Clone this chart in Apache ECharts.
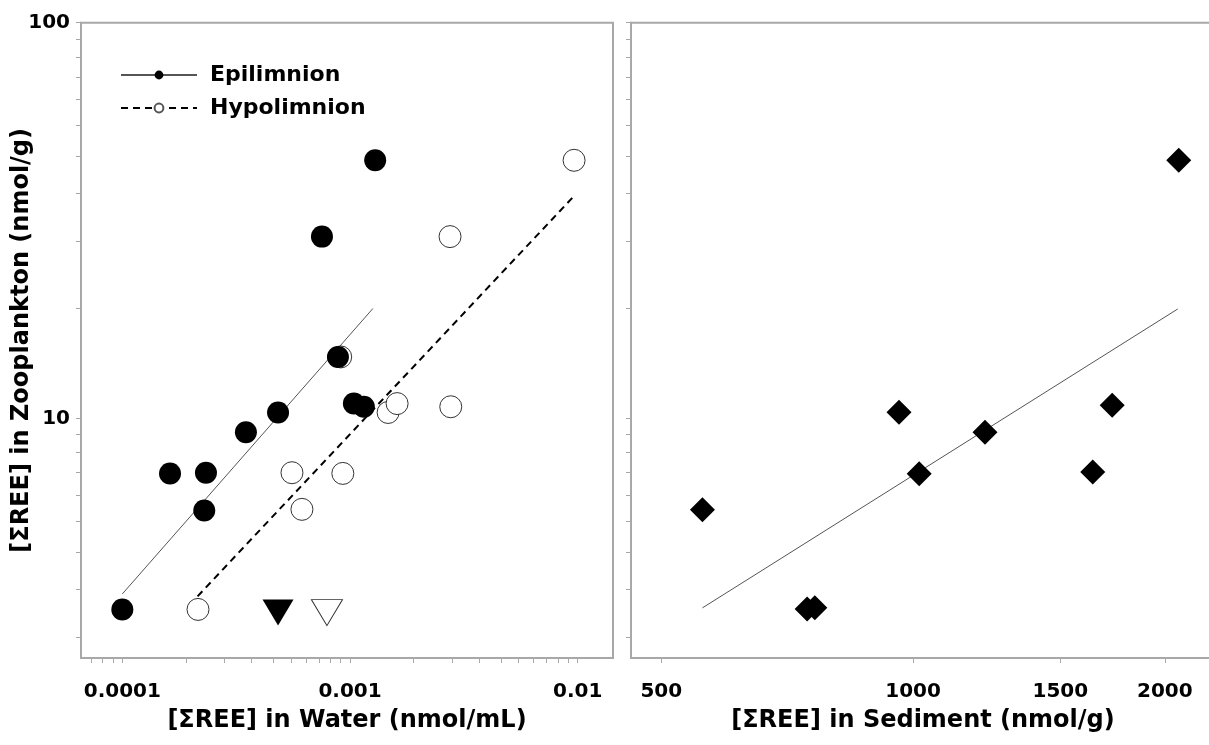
<!DOCTYPE html>
<html>
<head>
<meta charset="utf-8">
<script src="https://cdn.jsdelivr.net/npm/echarts@6/dist/echarts.min.js"></script>
<style>
html, body { margin: 0; padding: 0; background: #fff; }
#chart { width: 1209px; height: 745px; }
</style>
</head>
<body>
<div id="chart"></div>
<script>
// values
const epiWater = [1.0e-4, 1.62e-4, 2.33e-4, 2.29e-4, 3.49e-4, 4.83e-4, 7.53e-4, 8.85e-4, 1.04e-3, 1.15e-3, 1.29e-3]
const epiZoo = [3.29, 7.26, 7.29, 5.85, 9.22, 10.35, 28.8, 14.3, 10.9, 10.7, 44.9]
const hypoWater = [2.15e-4, 5.56e-4, 6.15e-4, 9.3e-4, 9.1e-4, 1.47e-3, 1.61e-3, 2.75e-3, 2.77e-3, 9.64e-3]
const hypoZoo = [3.29, 7.29, 5.89, 7.26, 14.3, 10.35, 10.9, 28.8, 10.7, 44.9]
// below detection limit (triangles)
const epiBdlWater = [4.83e-4]
const hypoBdlWater = [7.92e-4]
const bdlZoo = [3.23]
// regression lines
const epiFitWater = [1.0e-4, 1.26e-3]
const epiFitZoo = [3.6, 18.95]
const hypoFitWater = [2.14e-4, 9.73e-3]
const hypoFitZoo = [3.55, 36.7]

const sediment = [560, 747, 763, 962, 1017, 1219, 1640, 1730, 2078]
const sedZoo = [5.88, 3.30, 3.32, 10.37, 7.25, 9.23, 7.32, 10.79, 44.9]
const sedFitX = [560, 2072]
const sedFitY = [3.32, 18.9]

// axis ticks
const zooTicks = [2.8, 3.7, 4.6, 5.5, 6.4, 7.3, 8.2, 9.1, 10, 19, 28, 37, 46, 55, 64, 73, 82, 91, 100]
const zooLabels = [10, 100]
const waterTicks = [7.3e-5, 8.2e-5, 9.1e-5, 1e-4, 1.9e-4, 2.8e-4, 3.7e-4, 4.6e-4, 5.5e-4, 6.4e-4, 7.3e-4, 8.2e-4, 9.1e-4,
	1e-3, 1.9e-3, 2.8e-3, 3.7e-3, 4.6e-3, 5.5e-3, 6.4e-3, 7.3e-3, 8.2e-3, 9.1e-3, 1e-2]
const waterLabels = [0.0001, 0.001, 0.01]
const sedTicks = [500, 1000, 1500, 2000]

const pairs = (xs, ys) => xs.map((x, i) => [x, ys[i]])
const font = 'DejaVu Sans'
const gray = '#a8a8a8'

const fmt = v => String(Number(Number(v).toPrecision(6)))

const axisBase = (ticks, labels, showLabel, margin) => ({
	type: 'log',
	logBase: 10,
	splitLine: { show: false },
	axisLine: { show: true, lineStyle: { color: gray, width: 2 } },
	axisTick: { show: true, inside: false, length: 5, customValues: ticks, lineStyle: { color: gray, width: 1 } },
	axisLabel: {
		show: showLabel,
		customValues: labels,
		formatter: fmt,
		margin: margin,
		fontFamily: font, fontWeight: 'bold', fontSize: 20, color: '#000'
	},
	nameLocation: 'middle',
	nameMoveOverlap: false,
	nameTextStyle: { fontFamily: font, fontWeight: 'bold', fontSize: 24, color: '#000' }
})

const chart = echarts.init(document.getElementById('chart'))
chart.setOption({
	animation: false,
	backgroundColor: '#fff',
	grid: [
		{ left: 81, top: 22.7, width: 532, height: 635.3, show: true, borderColor: gray, borderWidth: 2, backgroundColor: 'transparent', outerBoundsMode: 'none' },
		{ left: 631, top: 22.7, width: 584, height: 635.3, show: true, borderColor: gray, borderWidth: 2, backgroundColor: 'transparent', outerBoundsMode: 'none' }
	],
	legend: {
		orient: 'vertical',
		left: 120,
		top: 64,
		padding: 0,
		itemWidth: 76,
		itemHeight: 11,
		itemGap: 11,
		selectedMode: false,
		data: ['Epilimnion', 'Hypolimnion'],
		textStyle: { fontFamily: font, fontWeight: 'bold', fontSize: 22, color: '#000', padding: [0, 0, 0, 8] }
	},
	xAxis: [
		Object.assign(axisBase(waterTicks, waterLabels, true, 24), {
			gridIndex: 0, min: 6.585e-5, max: 0.01429,
			name: '[ΣREE] in Water (nmol/mL)', nameGap: 51
		}),
		Object.assign(axisBase(sedTicks, sedTicks, true, 24), {
			gridIndex: 1, min: 460, max: 2296,
			name: '[ΣREE] in Sediment (nmol/g)', nameGap: 51
		})
	],
	yAxis: [
		Object.assign(axisBase(zooTicks, zooLabels, true, 11), {
			gridIndex: 0, min: 2.48, max: 100,
			name: '[ΣREE] in Zooplankton (nmol/g)', nameGap: 47
		}),
		Object.assign(axisBase(zooTicks, zooLabels, false, 11), {
			gridIndex: 1, min: 2.48, max: 100
		})
	],
	series: [
		{
			type: 'line', name: 'Epilimnion',
			xAxisIndex: 0, yAxisIndex: 0,
			data: pairs(epiFitWater, epiFitZoo),
			symbol: 'circle', showSymbol: false,
			itemStyle: { color: '#000' },
			lineStyle: { color: '#555', width: 1 },
			z: 2
		},
		{
			type: 'line', name: 'Hypolimnion',
			xAxisIndex: 0, yAxisIndex: 0,
			data: pairs(hypoFitWater, hypoFitZoo),
			symbol: 'circle', showSymbol: false,
			itemStyle: { color: '#fff', borderColor: '#555', borderWidth: 1 },
			lineStyle: { color: '#000', width: 2, type: [7, 5] },
			z: 2
		},
		{
			type: 'scatter', name: 'hypo points',
			xAxisIndex: 0, yAxisIndex: 0,
			data: pairs(hypoWater, hypoZoo),
			symbol: 'circle', symbolSize: 22,
			itemStyle: { color: '#fff', borderColor: '#333', borderWidth: 1, opacity: 1 },
			z: 3
		},
		{
			type: 'scatter', name: 'epi points',
			xAxisIndex: 0, yAxisIndex: 0,
			data: pairs(epiWater, epiZoo),
			symbol: 'circle', symbolSize: 22,
			itemStyle: { color: '#000', opacity: 1 },
			z: 4
		},
		{
			type: 'scatter', name: 'epi bdl',
			xAxisIndex: 0, yAxisIndex: 0,
			data: pairs(epiBdlWater, bdlZoo),
			symbol: 'triangle', symbolRotate: 180, symbolSize: [31, 26],
			itemStyle: { color: '#000', opacity: 1 },
			z: 4
		},
		{
			type: 'scatter', name: 'hypo bdl',
			xAxisIndex: 0, yAxisIndex: 0,
			data: pairs(hypoBdlWater, bdlZoo),
			symbol: 'triangle', symbolRotate: 180, symbolSize: [31, 26],
			itemStyle: { color: '#fff', borderColor: '#333', borderWidth: 1, opacity: 1 },
			z: 4
		},
		{
			type: 'line', name: 'sediment fit',
			xAxisIndex: 1, yAxisIndex: 1,
			data: pairs(sedFitX, sedFitY),
			showSymbol: false,
			lineStyle: { color: '#555', width: 1 },
			z: 2
		},
		{
			type: 'scatter', name: 'sediment',
			xAxisIndex: 1, yAxisIndex: 1,
			data: pairs(sediment, sedZoo),
			symbol: 'diamond', symbolSize: 25,
			itemStyle: { color: '#000', opacity: 1 },
			z: 4
		}
	]
})
</script>
</body>
</html>
